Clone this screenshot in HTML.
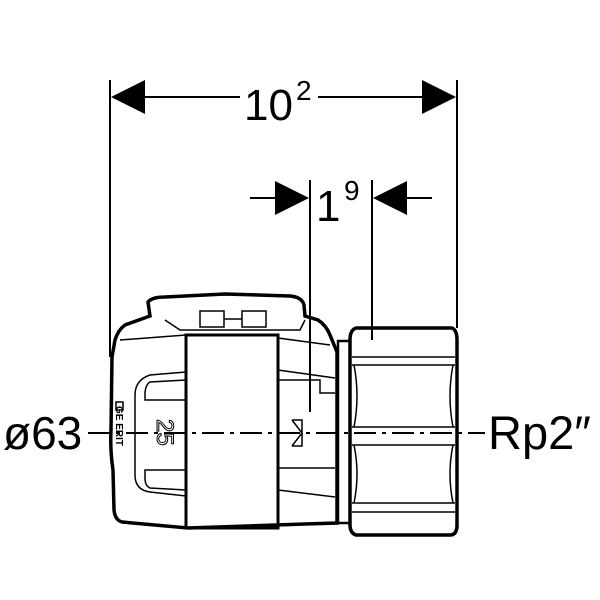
<!DOCTYPE html>
<html><head><style>body{margin:0;background:#fff}svg{display:block}</style></head>
<body>
<svg width="600" height="600" viewBox="0 0 600 600" xmlns="http://www.w3.org/2000/svg" font-family="Liberation Sans, sans-serif">
<g stroke="#000" fill="none" stroke-width="2">
<line x1="110" y1="80" x2="110" y2="357"/>
<line x1="457" y1="80" x2="457" y2="328"/>
<line x1="310" y1="180" x2="310" y2="412"/>
<line x1="372" y1="180" x2="372" y2="340"/>
<line x1="140" y1="97" x2="240" y2="97"/>
<line x1="318" y1="97" x2="425" y2="97"/>
<line x1="250" y1="198" x2="280" y2="198"/>
<line x1="400" y1="198" x2="432" y2="198"/>
</g>
<g fill="#000">
<polygon points="111,97 145,80 145,114"/>
<polygon points="456,97 422,80 422,114"/>
<polygon points="309,198 275,181 275,215"/>
<polygon points="373,198 407,181 407,215"/>
</g>
<text x="244" y="120" font-size="44">10</text>
<text x="296" y="100" font-size="28">2</text>
<text x="316" y="221" font-size="44">1</text>
<text x="344" y="200" font-size="28">9</text>
<text x="3" y="449" font-size="46">ø63</text>
<text x="488" y="449" font-size="47">Rp2″</text>
<g stroke="#000" fill="none">
<path d="M112,357 L115,340 Q118,330 125,325 L150,316 L148,302 Q152,297 165,297 L225,294 L290,296 Q302,297 304,305 L305,316 L318,320 Q326,325 330,335 L337,352 L337,523 L305,524 L188,528 L122,522 Q115,520 114,510 L113,470 Q110,450 111,430 Z" stroke-width="3.5"/>
<rect x="186" y="335" width="92" height="193" stroke-width="3"/>
<rect x="338" y="341" width="12" height="182" stroke-width="2.5"/>
<path d="M356,328 L452,328 Q457,330 457,340 L457,525 Q457,535 450,535 L356,535 Q350,533 350,525 L350,340 Q350,330 356,328 Z" stroke-width="3.5"/>
<g stroke-width="1.5">
<line x1="352" y1="357" x2="455" y2="357"/>
<line x1="352" y1="365" x2="455" y2="365"/>
<line x1="352" y1="427" x2="455" y2="427"/>
<line x1="352" y1="445" x2="455" y2="445"/>
<line x1="352" y1="503" x2="455" y2="503"/>
<line x1="352" y1="512" x2="455" y2="512"/>
<path d="M354,365 Q360,396 354,427 M453,365 Q447,396 453,427 M354,445 Q360,474 354,503 M453,445 Q447,474 453,503"/>
<rect x="200" y="311" width="24" height="16"/>
<rect x="242" y="311" width="24" height="16"/>
<line x1="224" y1="319" x2="242" y2="319"/>
<path d="M165,320 L180,330 L300,330 L305,320"/>
<path d="M120,340 L186,335 M278,338 L330,345"/>
<path d="M186,372 L150,375 Q135,380 135,395 L135,475 Q135,490 150,492 L186,496"/>
<path d="M186,380 L150,382 Q145,385 145,395 L145,400 L186,400 M186,470 L145,470 L145,478 Q145,486 150,488 L186,490"/>
<path d="M278,370 L335,378 M278,380 L320,380 L320,393 L335,393 M278,468 L335,468 M278,490 L335,497"/>
<path d="M292,420 L302,420 L302,446 L292,446 M292,420 L302,433 L292,446"/>
<rect x="116" y="402" width="7" height="8"/>
</g>
</g>
<text x="148" y="438" font-size="24" transform="rotate(90 162 433)" fill="none" stroke="#000" stroke-width="1">25</text>
<text x="92" y="436" font-size="10" font-weight="bold" transform="rotate(90 119 433)">GE  ERIT</text>
<line x1="88" y1="433" x2="485" y2="433" stroke="#000" stroke-width="2" stroke-dasharray="22,6,4,6"/>
</svg>
</body></html>
